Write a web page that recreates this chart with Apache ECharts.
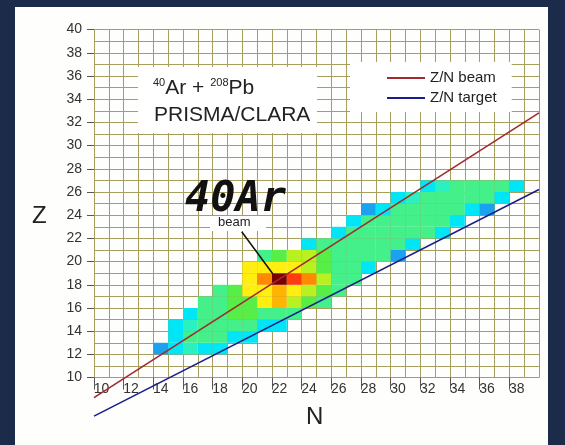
<!DOCTYPE html>
<html>
<head>
<meta charset="utf-8">
<script src="https://cdn.jsdelivr.net/npm/echarts@6/dist/echarts.min.js"></script>
<style>
  html, body { margin: 0; padding: 0; background: #1c2b4a; }
  #chart { width: 565px; height: 445px; }
</style>
</head>
<body>
<div id="chart"></div>
<script>
// Nuclide yield map: rows of Z, each row starts at a given N and lists intensity levels (1 = low, 11 = peak)
const rowZ      = [12, 13, 14, 15, 16, 17, 18, 19, 20, 21, 22, 23, 24, 25, 26];
const rowStartN = [14, 15, 15, 16, 17, 18, 20, 20, 21, 24, 26, 27, 28, 30, 32];
const rowLevels = [
  [1, 2, 3, 2, 2],
  [2, 4, 4, 4, 2, 2],
  [2, 3, 4, 4, 4, 4, 2, 2],
  [2, 4, 4, 5, 5, 4, 4, 4],
  [4, 4, 5, 5, 7, 8, 6, 5, 4],
  [4, 5, 7, 7, 8, 7, 6, 5, 4],
  [7, 9, 11, 10, 9, 6, 4, 4],
  [7, 7, 7, 7, 6, 5, 4, 4, 2],
  [4, 5, 6, 6, 5, 4, 4, 4, 4, 1],
  [2, 4, 4, 4, 4, 4, 4, 2],
  [2, 4, 4, 4, 4, 4, 4, 2],
  [2, 4, 4, 4, 4, 4, 4, 2],
  [1, 2, 4, 4, 4, 4, 4, 2, 1],
  [2, 3, 4, 4, 4, 4, 4, 2],
  [2, 3, 4, 4, 4, 4, 2]
];
const levelColors = ['#1aa2f0', '#00e6f6', '#2cf0c0', '#44f08a', '#58ee48', '#b8f020',
                     '#ffee10', '#ffb400', '#ff8a00', '#ff3c10', '#7a0000'];

// Z/N reference lines (end points at the N range limits)
const beamLine   = [[9.5, 7.77], [39.5, 32.32]];   // 40Ar, Z/N = 18/22
const targetLine = [[9.5, 6.18], [39.5, 25.71]];   // 208Pb, Z/N = 82/126
const beamCell   = [22, 18];

// Axis ranges and labels
const nRange = [9.5, 39.5];
const zRange = [9.5, 39.5];
const nLabels = [10, 12, 14, 16, 18, 20, 22, 24, 26, 28, 30, 32, 34, 36, 38];
const zLabels = [10, 12, 14, 16, 18, 20, 22, 24, 26, 28, 30, 32, 34, 36, 38, 40];

const cells = [];
rowZ.forEach((z, r) => {
  rowLevels[r].forEach((lv, i) => cells.push([rowStartN[r] + i, z, lv]));
});

const FONT = '"Liberation Sans", Arial, sans-serif';
const GRID_COLOR = '#a69e5e';
const BEAM_COLOR = '#a02a2e';
const TARGET_COLOR = '#1a1f88';
const LINE_ICON = 'path://M0,0 L40,0 L40,2 L0,2 Z';

const chart = echarts.init(document.getElementById('chart'), null, { renderer: 'canvas' });

const option = {
  animation: false,
  backgroundColor: 'transparent',
  grid: { left: 94, top: 29.6, width: 445, height: 348 },
  xAxis: [
    { // grid lines
      type: 'value', min: nRange[0], max: nRange[1], interval: 1,
      axisLine: { show: false }, axisTick: { show: false }, axisLabel: { show: false },
      splitLine: { show: true, lineStyle: { color: GRID_COLOR, width: 1 } }
    },
    { // ticks and labels
      type: 'value', position: 'bottom', min: nRange[0], max: nRange[1],
      axisLine: { show: false },
      splitLine: { show: false },
      axisTick: { show: true, length: 12, customValues: nLabels.map(v => v - 0.5),
                  lineStyle: { color: '#555', width: 1 } },
      axisLabel: { show: true, customValues: nLabels, margin: 5, fontSize: 14, color: '#333', fontFamily: FONT }
    }
  ],
  yAxis: [
    {
      type: 'value', min: zRange[0], max: zRange[1], interval: 1,
      axisLine: { show: false }, axisTick: { show: false }, axisLabel: { show: false },
      splitLine: { show: true, lineStyle: { color: GRID_COLOR, width: 1 } }
    },
    {
      type: 'value', position: 'left', min: zRange[0], max: zRange[1],
      axisLine: { show: false },
      splitLine: { show: false },
      axisTick: { show: true, length: 7, customValues: zLabels.map(v => v - 0.5),
                  lineStyle: { color: '#555', width: 1 } },
      axisLabel: { show: true, customValues: zLabels.map(v => v - 0.5), margin: 12, fontSize: 14,
                   color: '#333', fontFamily: FONT, verticalAlign: 'middle', padding: [0, 0, 6, 0],
                   formatter: v => String(Math.round(v + 0.5)) }
    }
  ],
  visualMap: {
    show: false, type: 'continuous', dimension: 2, seriesIndex: 0,
    min: 1, max: levelColors.length, inRange: { color: levelColors }
  },
  legend: {
    show: true, orient: 'vertical', left: 350, top: 62,
    backgroundColor: '#ffffff', padding: [8, 15, 6, 37], itemGap: 4,
    itemWidth: 38, itemHeight: 2,
    textStyle: { fontSize: 15, color: '#222', fontFamily: FONT, lineHeight: 16 },
    data: [
      { name: 'Z/N beam', icon: LINE_ICON, itemStyle: { color: BEAM_COLOR } },
      { name: 'Z/N target', icon: LINE_ICON, itemStyle: { color: TARGET_COLOR } }
    ]
  },
  series: [
    {
      type: 'custom', name: 'yield', xAxisIndex: 0, yAxisIndex: 0, z: 3,
      data: cells,
      renderItem: (params, api) => {
        const n = api.value(0), z = api.value(1);
        const p0 = api.coord([n - 0.5, z + 0.5]);
        const p1 = api.coord([n + 0.5, z - 0.5]);
        return {
          type: 'rect',
          shape: { x: p0[0], y: p0[1], width: p1[0] - p0[0], height: p1[1] - p0[1] },
          style: { fill: api.visual('color') }
        };
      }
    },
    {
      type: 'line', name: 'Z/N beam', xAxisIndex: 0, yAxisIndex: 0, z: 4,
      data: beamLine, symbol: 'none', clip: false,
      lineStyle: { color: BEAM_COLOR, width: 1.6 }, itemStyle: { color: BEAM_COLOR }
    },
    {
      type: 'line', name: 'Z/N target', xAxisIndex: 0, yAxisIndex: 0, z: 4,
      data: targetLine, symbol: 'none', clip: false,
      lineStyle: { color: TARGET_COLOR, width: 1.6 }, itemStyle: { color: TARGET_COLOR }
    }
  ]
};

chart.setOption(option);

// Panel, annotations and axis titles
const tip = chart.convertToPixel({ gridIndex: 0 }, [beamCell[0] - 0.45, beamCell[1] + 0.45]);
chart.setOption({
  graphic: [
    { type: 'rect', z: -10, silent: true, shape: { x: 15, y: 7, width: 533, height: 440 },
      style: { fill: '#fefefc' } },
    { type: 'rect', z: 10, shape: { x: 138, y: 67, width: 179, height: 66 }, style: { fill: '#ffffff' } },
    { type: 'text', z: 11, left: 153, top: 77,
      style: {
        text: '{sup|40}{main|Ar + }{sup|208}{main|Pb}',
        rich: {
          sup: { fontSize: 11, fontFamily: FONT, fill: '#222', verticalAlign: 'top', padding: [0, 0, 11, 0] },
          main: { fontSize: 21, fontFamily: FONT, fill: '#222' }
        }
      } },
    { type: 'text', z: 11, left: 154, top: 105,
      style: { text: 'PRISMA/CLARA', fontSize: 21, fontFamily: FONT, fill: '#222' } },
    { type: 'text', z: 11, left: 185, top: 179,
      style: { text: '40Ar', fontSize: 42, fontWeight: 'bold', fontStyle: 'italic',
               fontFamily: '"DejaVu Sans Mono", monospace', fill: '#111' } },
    { type: 'rect', z: 10, shape: { x: 210, y: 216, width: 56, height: 15 }, style: { fill: '#ffffff' } },
    { type: 'text', z: 11, left: 218, top: 216,
      style: { text: 'beam', fontSize: 13, fontFamily: FONT, fill: '#222' } },
    { type: 'line', z: 11, shape: { x1: tip[0] - 31, y1: tip[1] - 42, x2: tip[0], y2: tip[1] },
      style: { stroke: '#111', lineWidth: 1.5 } },
    { type: 'text', z: 11, left: 32, top: 204,
      style: { text: 'Z', fontSize: 24, fontFamily: FONT, fill: '#222' } },
    { type: 'text', z: 11, left: 306, top: 405,
      style: { text: 'N', fontSize: 24, fontFamily: FONT, fill: '#222' } }
  ]
});
</script>
</body>
</html>
